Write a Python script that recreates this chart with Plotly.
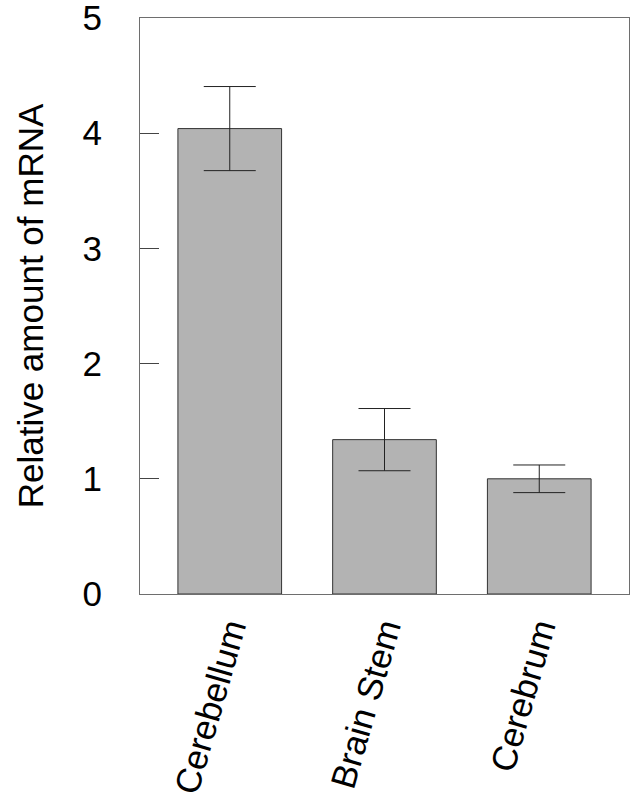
import plotly.graph_objects as go

regions = ['Cerebellum', 'Brain Stem', 'Cerebrum']
mrna = [4.04, 1.34, 1.0]
mrna_err = [0.365, 0.27, 0.12]
y_ticks = [0, 1, 2, 3, 4, 5]

FONT = 'Liberation Sans, Arial, sans-serif'
LINE = '#6e6e6e'

fig = go.Figure(
    go.Bar(
        x=regions,
        y=mrna,
        width=0.67,
        marker=dict(color='#b3b3b3', line=dict(color='#333333', width=1)),
        error_y=dict(type='data', array=mrna_err, color='#222222',
                     thickness=1, width=26),
        showlegend=False,
    )
)
fig.update_layout(
    width=642,
    height=798,
    plot_bgcolor='white',
    paper_bgcolor='white',
    margin=dict(l=140, r=13, t=18, b=204, autoexpand=False),
    font=dict(family=FONT, color='black', size=35),
    xaxis=dict(
        range=[-0.58, 2.58],
        showline=True,
        linecolor=LINE,
        linewidth=1,
        mirror=True,
        ticks='',
        tickangle=-74,
        tickfont=dict(size=35),
        showgrid=False,
        zeroline=False,
        automargin=False,
    ),
    yaxis=dict(
        range=[0, 5],
        tickvals=y_ticks,
        showline=True,
        linecolor=LINE,
        linewidth=1,
        mirror=True,
        ticks='inside',
        ticklen=19,
        tickcolor='#444444',
        tickwidth=1,
        ticklabelstandoff=30,
        ticklabeloverflow='allow',
        tickfont=dict(size=35),
        showgrid=False,
        zeroline=False,
        automargin=False,
        title=dict(text='Relative amount of mRNA', font=dict(size=35), standoff=28),
    ),
)
# drop the default 8px body margin so the figure fills the window exactly
fig.write_html(
    "out.html",
    config=dict(displayModeBar=False),
    post_script="document.body.style.margin='0px';",
)
